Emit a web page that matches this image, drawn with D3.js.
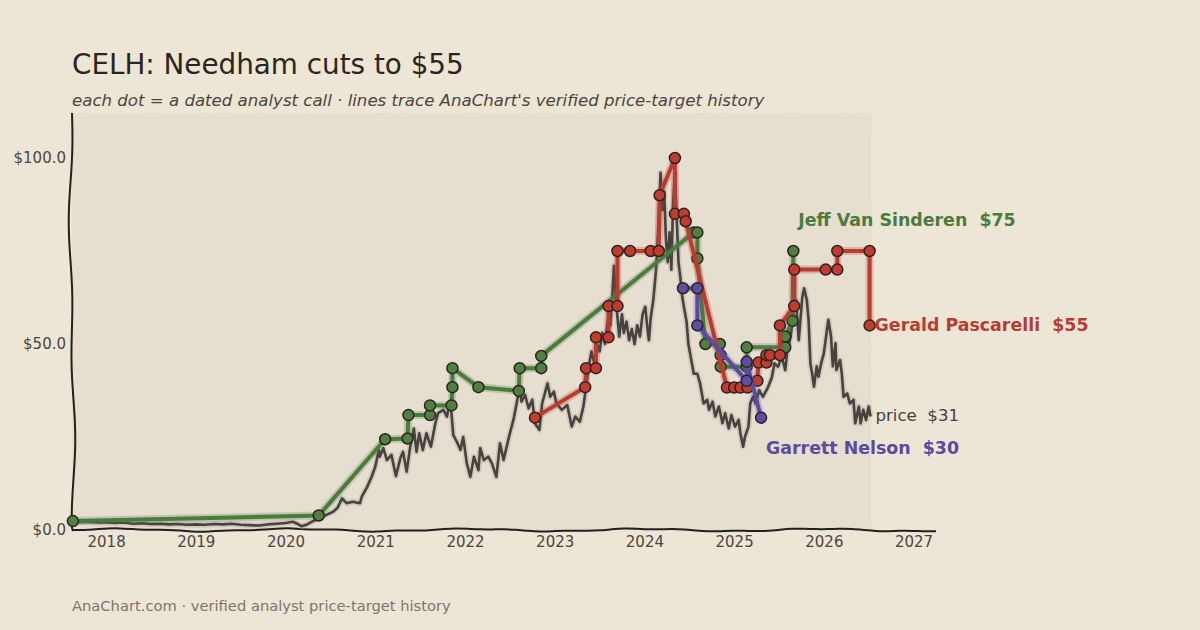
<!DOCTYPE html>
<html>
<head>
<meta charset="utf-8">
<script src="https://cdn.jsdelivr.net/npm/d3@7/dist/d3.min.js"></script>
<style>
  body { margin: 0; background: #ede6d6; }
  svg { display: block; font-family: "DejaVu Sans", sans-serif; }
  .lbl { white-space: pre; }
</style>
</head>
<body>
<svg id="chart" width="1200" height="630"></svg>
<script>
// CELH price (split adjusted), decimal years
const priceDates = [
  2017.62, 2017.70, 2017.80, 2017.90, 2018.00, 2018.10, 2018.20, 2018.30, 2018.40, 2018.50,
  2018.60, 2018.70, 2018.80, 2018.90, 2019.00, 2019.10, 2019.20, 2019.30, 2019.40, 2019.50,
  2019.60, 2019.70, 2019.80, 2019.90, 2020.00, 2020.08, 2020.13, 2020.18, 2020.24, 2020.30,
  2020.37, 2020.45, 2020.53, 2020.58, 2020.63, 2020.68, 2020.75, 2020.83, 2020.85, 2020.91,
  2020.96, 2021.00, 2021.04, 2021.05, 2021.09, 2021.13, 2021.18, 2021.23, 2021.28, 2021.31,
  2021.35, 2021.39, 2021.43, 2021.46, 2021.49, 2021.53, 2021.57, 2021.62, 2021.67, 2021.70,
  2021.76, 2021.80, 2021.82, 2021.84, 2021.87, 2021.91, 2021.95, 2021.98, 2022.02, 2022.06,
  2022.10, 2022.15, 2022.17, 2022.21, 2022.26, 2022.30, 2022.35, 2022.39, 2022.43, 2022.49,
  2022.54, 2022.59, 2022.61, 2022.63, 2022.67, 2022.71, 2022.75, 2022.78, 2022.83, 2022.86,
  2022.89, 2022.92, 2022.95, 2022.99, 2023.02, 2023.08, 2023.14, 2023.19, 2023.23, 2023.28,
  2023.32, 2023.35, 2023.38, 2023.41, 2023.44, 2023.47, 2023.50, 2023.53, 2023.56, 2023.59,
  2023.62, 2023.64, 2023.66, 2023.68, 2023.70, 2023.72, 2023.75, 2023.77, 2023.80, 2023.83,
  2023.86, 2023.89, 2023.92, 2023.95, 2023.98, 2024.01, 2024.03, 2024.05, 2024.07, 2024.10,
  2024.13, 2024.16, 2024.18, 2024.20, 2024.22, 2024.24, 2024.26, 2024.28, 2024.30, 2024.32,
  2024.34, 2024.36, 2024.38, 2024.40, 2024.42, 2024.44, 2024.47, 2024.49, 2024.52, 2024.55,
  2024.59, 2024.62, 2024.66, 2024.70, 2024.72, 2024.76, 2024.79, 2024.83, 2024.87, 2024.90,
  2024.94, 2024.97, 2025.01, 2025.05, 2025.07, 2025.10, 2025.12, 2025.16, 2025.18, 2025.21,
  2025.24, 2025.28, 2025.32, 2025.38, 2025.42, 2025.45, 2025.49, 2025.53, 2025.57, 2025.59,
  2025.63, 2025.66, 2025.69, 2025.72, 2025.76, 2025.78, 2025.81, 2025.83, 2025.85, 2025.87,
  2025.89, 2025.92, 2025.94, 2025.97, 2026.00, 2026.03, 2026.05, 2026.08, 2026.10, 2026.13,
  2026.14, 2026.18, 2026.20, 2026.22, 2026.26, 2026.29, 2026.33, 2026.35, 2026.39, 2026.41,
  2026.44, 2026.47, 2026.50, 2026.52
];
const priceValues = [
  2.3, 2.1, 2.2, 2.0, 2.1, 1.9, 2.0, 1.7, 1.8, 1.6,
  1.7, 1.5, 1.6, 1.4, 1.5, 1.4, 1.6, 1.5, 1.7, 1.4,
  1.3, 1.2, 1.5, 1.7, 1.9, 2.2, 1.7, 1.0, 1.5, 2.3,
  3.1, 4.0, 4.9, 6.0, 8.5, 7.2, 7.6, 7.2, 9.0, 11.6,
  14.3, 17.0, 21.5, 19.7, 22.0, 18.8, 20.2, 14.5, 19.3, 21.0,
  15.7, 22.4, 27.3, 21.0, 26.0, 21.5, 26.0, 22.4, 28.7, 31.4,
  32.3, 30.5, 33.2, 34.0, 25.5, 23.7, 21.5, 25.0, 18.0, 14.3,
  19.7, 16.1, 22.0, 18.8, 19.7, 17.9, 14.3, 23.3, 18.8, 25.0,
  29.6, 35.8, 38.0, 34.5, 36.3, 32.7, 35.0, 28.7, 26.9, 34.0,
  36.7, 39.4, 35.8, 37.2, 34.0, 32.3, 33.6, 27.8, 30.5, 29.1,
  33.2, 38.5, 44.0, 48.0, 45.0, 50.0, 48.0, 53.0, 50.0, 56.0,
  55.0, 62.0, 71.0, 63.0, 57.0, 52.0, 58.0, 53.0, 56.0, 51.0,
  54.0, 50.0, 55.0, 52.0, 58.0, 60.0, 55.0, 51.0, 57.0, 62.0,
  70.0, 84.0, 96.0, 86.0, 91.0, 78.0, 72.0, 80.0, 70.0, 88.0,
  96.0, 84.0, 72.0, 68.0, 63.0, 60.0, 56.0, 50.0, 46.0, 42.0,
  42.0, 39.4, 34.0, 35.0, 32.3, 34.5, 30.5, 33.2, 28.7, 31.4,
  27.3, 30.9, 27.8, 29.6, 26.0, 22.4, 25.0, 27.8, 34.0, 35.8,
  34.0, 37.6, 35.8, 38.5, 41.0, 44.8, 43.9, 46.6, 43.0, 47.5,
  52.0, 58.0, 61.8, 51.0, 62.7, 65.0, 61.8, 56.5, 44.8, 42.0,
  38.5, 44.0, 41.2, 44.8, 47.5, 52.9, 56.5, 52.0, 44.0, 50.2,
  43.0, 45.7, 42.0, 35.8, 36.7, 34.0, 35.0, 28.7, 33.2, 28.7,
  32.3, 29.6, 33.2, 30.5
];

// analyst price-target histories (date of call, target)
const jeffDates = [
  2017.63, 2020.37, 2021.11, 2021.36, 2021.37, 2021.61, 2021.61, 2021.85, 2021.86, 2021.86,
  2022.15, 2022.60, 2022.61, 2022.85, 2022.85, 2024.55, 2024.59, 2024.59, 2024.68, 2024.84,
  2024.85, 2024.85, 2025.14, 2025.14, 2025.57, 2025.57, 2025.65, 2025.66
];
const jeffTargets = [
  2.4, 3.9, 24.4, 24.6, 30.9, 30.9, 33.5, 33.5, 38.4, 43.5,
  38.4, 37.4, 43.5, 43.5, 46.8, 80, 80, 73, 50, 50,
  47, 43.9, 43.9, 49.1, 49.1, 52, 56.2, 75
];
const geraldDates = [
  2022.78, 2023.34, 2023.35, 2023.46, 2023.46, 2023.60, 2023.60, 2023.70, 2023.70, 2023.84,
  2024.07, 2024.16, 2024.17, 2024.34, 2024.34, 2024.44, 2024.46, 2024.92, 2025.00, 2025.07,
  2025.15, 2025.26, 2025.27, 2025.36, 2025.36, 2025.40, 2025.51, 2025.51, 2025.67, 2025.67,
  2026.02, 2026.15, 2026.15, 2026.51, 2026.51
];
const geraldTargets = [
  30.2, 38.4, 43.5, 43.5, 51.8, 51.8, 60.2, 60.2, 75, 75,
  75, 75, 90, 100, 85, 85, 83, 38.3, 38.3, 38.3,
  38.3, 40.1, 45, 45, 47, 47, 47, 55, 60.2, 70,
  70, 70, 75, 75, 55
];
const garrettDates = [2024.43, 2024.59, 2024.59, 2025.14, 2025.14, 2025.30];
const garrettTargets = [65, 65, 55, 40.1, 45.2, 30.2];

const yearTicks = [2018, 2019, 2020, 2021, 2022, 2023, 2024, 2025, 2026, 2027];
const priceTicks = [0, 50, 100];

const analysts = [
  { name: 'Jeff Van Sinderen', dates: jeffDates, targets: jeffTargets, color: '#4b7b3d', dot: '#4f8040' },
  { name: 'Gerald Pascarelli', dates: geraldDates, targets: geraldTargets, color: '#b73d31', dot: '#c23b2e' },
  { name: 'Garrett Nelson', dates: garrettDates, targets: garrettTargets, color: '#5b4b9f', dot: '#5d4ea5' }
];

const svg = d3.select('#chart');
const W = 1200, H = 630;
const plotL = 72, plotR = 936, plotT = 113, plotB = 530;

const x = d3.scaleLinear().domain([2017.62, 2027.25]).range([plotL, plotR]);
const y = d3.scaleLinear().domain([0, 112.1]).range([plotB, plotT]);

// paper texture
const defs = svg.append('defs');
const noise = defs.append('filter').attr('id', 'grain').attr('x', 0).attr('y', 0).attr('width', 1).attr('height', 1);
noise.append('feTurbulence').attr('type', 'fractalNoise').attr('baseFrequency', 0.8).attr('numOctaves', 2).attr('seed', 3);
noise.append('feColorMatrix').attr('values', '0 0 0 0 0.45  0 0 0 0 0.4  0 0 0 0 0.3  0 0 0 0.07 0');
noise.append('feComposite').attr('in2', 'SourceGraphic').attr('operator', 'in');

svg.append('rect').attr('width', W).attr('height', H).attr('fill', '#ede6d6');

const lastDate = d3.max(priceDates);
svg.append('rect')
  .attr('x', x(2017.62)).attr('y', plotT)
  .attr('width', x(lastDate) - x(2017.62) + 1).attr('height', plotB - plotT)
  .attr('fill', '#e8e0d2');
svg.append('rect')
  .attr('x', x(2017.62)).attr('y', plotT)
  .attr('width', x(lastDate) - x(2017.62) + 1).attr('height', plotB - plotT)
  .attr('fill', '#fff')
  .attr('filter', 'url(#grain)');

// titles
svg.append('text').attr('x', 72).attr('y', 74)
  .attr('font-size', 27.8).attr('fill', '#2b2520')
  .text('CELH: Needham cuts to $55');
svg.append('text').attr('x', 72).attr('y', 106)
  .attr('font-size', 16.6).attr('font-style', 'italic').attr('fill', '#4b4540')
  .text("each dot = a dated analyst call \u00b7 lines trace AnaChart's verified price-target history");
svg.append('text').attr('x', 72).attr('y', 611)
  .attr('font-size', 14.7).attr('fill', '#7d756b')
  .text('AnaChart.com \u00b7 verified analyst price-target history');

// axes (labels only, spines drawn by hand below)
const xAxis = svg.append('g').attr('transform', `translate(0,${plotB})`)
  .call(d3.axisBottom(x).tickValues(yearTicks).tickFormat(d3.format('d')).tickSize(0).tickPadding(6));
xAxis.select('.domain').remove();
xAxis.selectAll('text').attr('font-size', 15).attr('font-family', '"DejaVu Sans", sans-serif').attr('fill', '#4b4540');

const yAxis = svg.append('g').attr('transform', `translate(${plotL},0)`)
  .call(d3.axisLeft(y).tickValues(priceTicks).tickFormat(d => '$' + d.toFixed(1)).tickSize(0).tickPadding(6));
yAxis.select('.domain').remove();
yAxis.selectAll('text').attr('font-size', 15).attr('font-family', '"DejaVu Sans", sans-serif').attr('fill', '#4b4540');

// wobbly xkcd-ish spines
const wob = d3.line().curve(d3.curveBasis);
const leftPts = d3.range(plotT, plotB + 1, 16).map(v => [plotL - 2 * Math.sin((v - plotT) / 70) + 1.4 * Math.sin((v - plotT) / 23), v]);
leftPts.push([plotL + 1, plotB + 1]);
svg.append('path').attr('d', wob(leftPts)).attr('fill', 'none').attr('stroke', '#231f1c').attr('stroke-width', 2);
const botPts = d3.range(plotL, plotR + 1, 12).map(v => [v, plotB - 1.3 * Math.sin((v - plotL) / 28) + 0.6 * Math.sin((v - plotL) / 9)]);
svg.append('path').attr('d', wob(botPts)).attr('fill', 'none').attr('stroke', '#231f1c').attr('stroke-width', 2);

// price line
const price = priceDates.map((d, i) => [d, priceValues[i]]);
const line = d3.line().x(d => x(d[0])).y(d => y(d[1]));
svg.append('path').datum(price).attr('d', line)
  .attr('fill', 'none').attr('stroke', '#b8b0a3').attr('stroke-width', 6).attr('stroke-opacity', 0.45)
  .attr('stroke-linejoin', 'round');
svg.append('path').datum(price).attr('d', line)
  .attr('fill', 'none').attr('stroke', '#46423e').attr('stroke-width', 2.6)
  .attr('stroke-linejoin', 'round');

// analysts
analysts.forEach(a => {
  const pts = a.dates.map((d, i) => [d, a.targets[i]]);
  const g = svg.append('g');
  g.append('path').datum(pts).attr('d', line)
    .attr('fill', 'none').attr('stroke', a.color).attr('stroke-opacity', 0.25).attr('stroke-width', 8)
    .attr('stroke-linejoin', 'round');
  g.append('path').datum(pts).attr('d', line)
    .attr('fill', 'none').attr('stroke', a.color).attr('stroke-width', 4)
    .attr('stroke-linejoin', 'round');
  g.selectAll('circle').data(pts).enter().append('circle')
    .attr('cx', d => x(d[0])).attr('cy', d => y(d[1])).attr('r', 5.5)
    .attr('fill', a.dot).attr('stroke', '#2a2421').attr('stroke-width', 1.5);
});

// end labels
const jeff = analysts[0], gerald = analysts[1], garrett = analysts[2];
svg.append('text').attr('class', 'lbl')
  .attr('x', x(jeff.dates[jeff.dates.length - 1]) + 5).attr('y', y(jeff.targets[jeff.targets.length - 1]) - 25)
  .attr('font-size', 17.4).attr('font-weight', 'bold').attr('fill', jeff.color)
  .text(`${jeff.name}  $${jeff.targets[jeff.targets.length - 1]}`);
svg.append('text').attr('class', 'lbl')
  .attr('x', x(gerald.dates[gerald.dates.length - 1]) + 5).attr('y', y(gerald.targets[gerald.targets.length - 1]) + 6)
  .attr('font-size', 17.4).attr('font-weight', 'bold').attr('fill', gerald.color)
  .text(`${gerald.name}  $${gerald.targets[gerald.targets.length - 1]}`);
svg.append('text').attr('class', 'lbl')
  .attr('x', x(lastDate) + 5).attr('y', y(priceValues[priceValues.length - 1]) + 4)
  .attr('font-size', 16.6).attr('fill', '#46423e')
  .text(`price  $${Math.round(priceValues[priceValues.length - 1] + 0.5)}`);
svg.append('text').attr('class', 'lbl')
  .attr('x', x(garrett.dates[garrett.dates.length - 1]) + 5).attr('y', y(garrett.targets[garrett.targets.length - 1]) + 36)
  .attr('font-size', 17.4).attr('font-weight', 'bold').attr('fill', garrett.color)
  .text(`${garrett.name}  $${Math.round(garrett.targets[garrett.targets.length - 1])}`);
</script>
</body>
</html>
